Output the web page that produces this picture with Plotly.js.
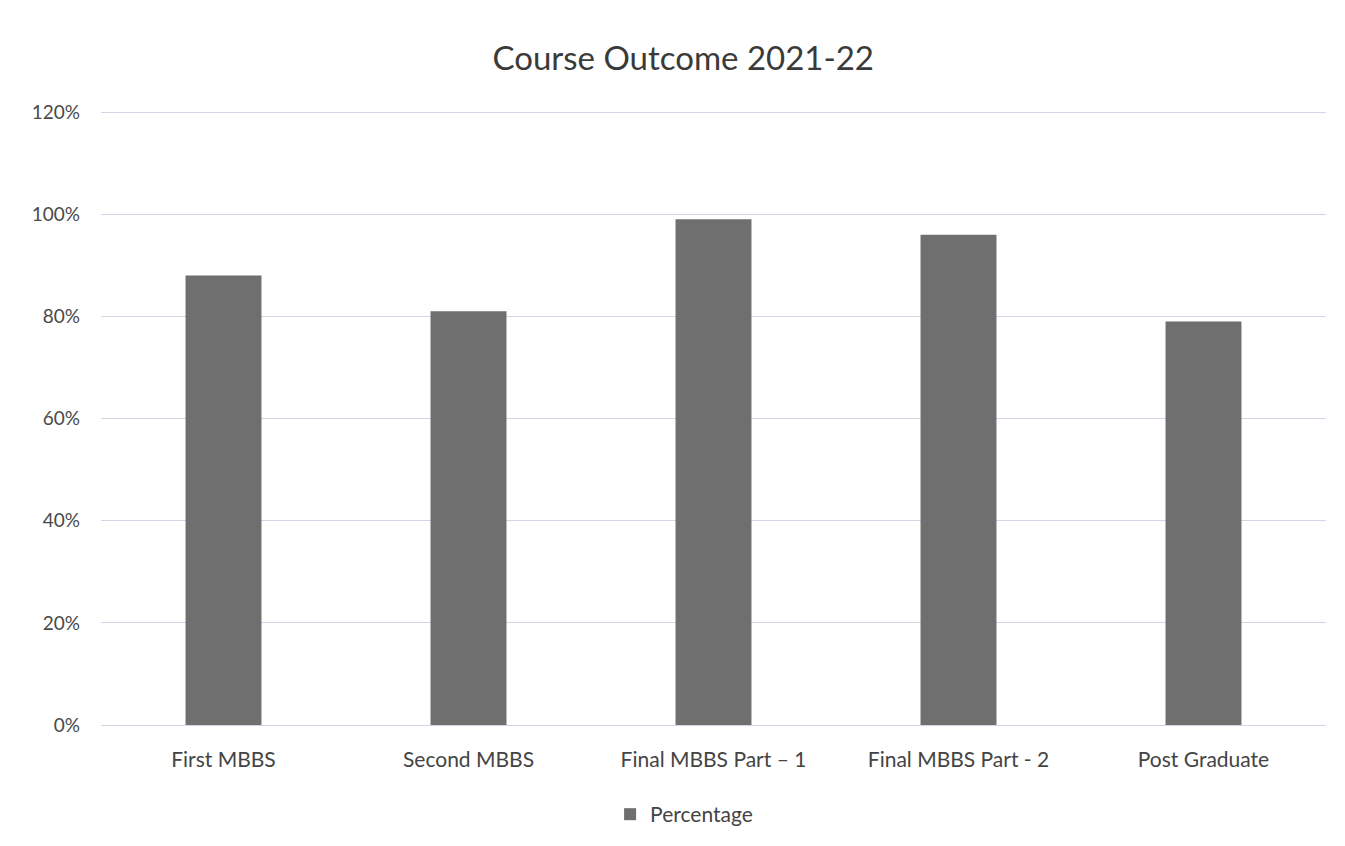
<!DOCTYPE html>
<html>
<head>
<meta charset="utf-8">
<script src="https://cdn.plot.ly/plotly-3.0.1.min.js"></script>
<style>html,body{margin:0;padding:0;background:#fff;}#chart{width:1345px;height:846px;}</style>
</head>
<body>
<div id="chart"></div>
<script>
const categories = ["First MBBS", "Second MBBS", "Final MBBS Part – 1", "Final MBBS Part - 2", "Post Graduate"];
const percentages = [0.88, 0.81, 0.99, 0.96, 0.79];
const seriesName = "Percentage";
const yTickValues = [0, 0.2, 0.4, 0.6, 0.8, 1.0, 1.2];
const yTickLabels = ["0%", "20%", "40%", "60%", "80%", "100%", "120%"];

const trace = {
  type: "bar",
  x: categories,
  y: percentages,
  name: seriesName,
  marker: {color: "#6f6f6f"},
  width: 0.31,
  showlegend: true,
  hoverinfo: "x+y"
};

const layout = {
  width: 1345,
  height: 846,
  paper_bgcolor: "#ffffff",
  plot_bgcolor: "#ffffff",
  font: {family: "Lato, 'Open Sans', sans-serif", color: "#444444", size: 20},
  title: {text: "Course Outcome 2021-22", font: {size: 33, color: "#3a3a3a"}, x: 0.508, xanchor: "center", y: 0.931, yanchor: "middle"},
  margin: {l: 101, r: 19, t: 107, b: 120},
  bargap: 0.69,
  xaxis: {
    showgrid: false,
    zeroline: false,
    showline: false,
    ticks: "",
    ticklabelstandoff: 20,
    tickfont: {size: 21, color: "#444"}
  },
  yaxis: {
    range: [0, 1.21],
    tickvals: yTickValues,
    ticktext: yTickLabels,
    showgrid: true,
    gridcolor: "#d8d2e6",
    gridwidth: 1,
    zeroline: true,
    zerolinecolor: "#d8d2e6",
    zerolinewidth: 1,
    showline: false,
    ticks: "",
    ticklabelstandoff: 20,
    tickfont: {size: 19, color: "#4a4a4a"}
  },
  legend: {
    orientation: "h",
    x: 0.476, xanchor: "center",
    y: -0.143, yanchor: "middle",
    font: {size: 21, color: "#444"},
    itemwidth: 30
  },
  showlegend: true
};

Plotly.newPlot("chart", [trace], layout, {displayModeBar: false, staticPlot: true});
</script>
</body>
</html>
